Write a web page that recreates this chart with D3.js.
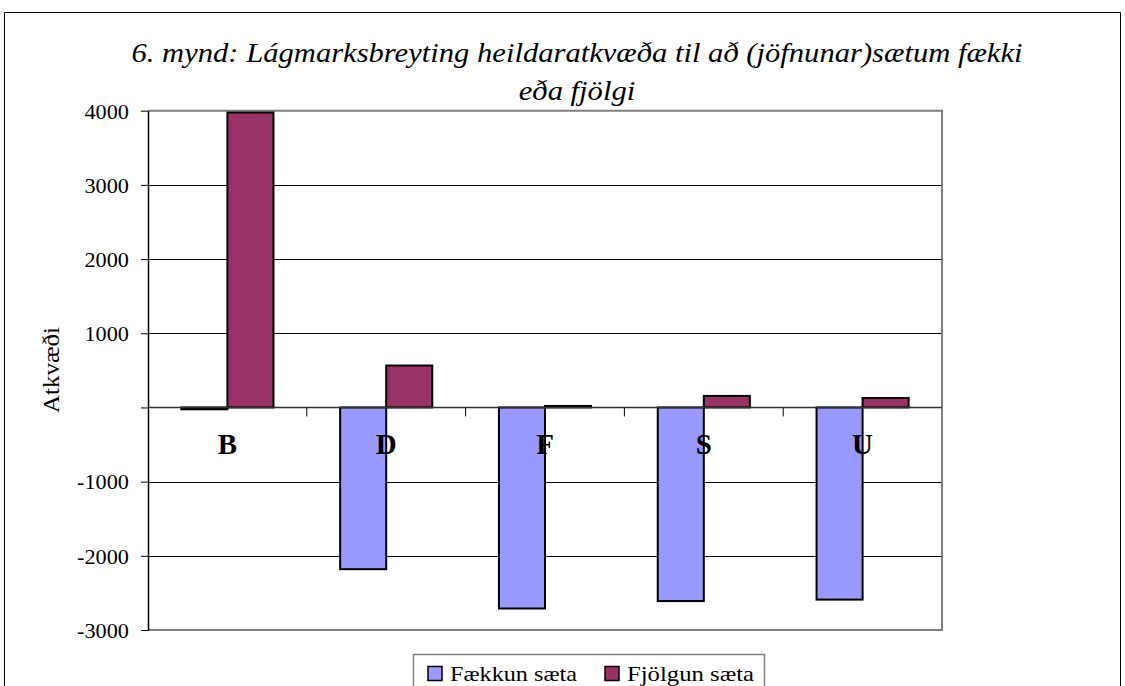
<!DOCTYPE html>
<html>
<head>
<meta charset="utf-8">
<script src="https://cdn.jsdelivr.net/npm/d3@7"></script>
<style>
 body{ margin:0; background:#fff; }
</style>
</head>
<body>
<svg id="chart" width="1125" height="686"></svg>
<script>
// gildi lesin af myndinni
const categories = ["B", "D", "F", "S", "U"];
const faekkun = [-25, -2180, -2710, -2610, -2590];
const fjolgun = [3975, 565, 20, 155, 127];
const yTicks = [-3000, -2000, -1000, 0, 1000, 2000, 3000, 4000];
const seriesNames = ["Fækkun sæta", "Fjölgun sæta"];
const seriesColors = ["#9999FF", "#993366"];
const titleLines = ["6. mynd: Lágmarksbreyting heildaratkvæða til að (jöfnunar)sætum fækki", "eða fjölgi"];

const serif = "Liberation Serif";
const svg = d3.select("#chart");
const plot = {left: 148, right: 942, top: 110.7, bottom: 630};

// myndin er teygð lárétt, textinn fylgir því
function stretch(sel, factor) {
    sel.each(function () {
        const w = this.getComputedTextLength();
        if (w > 0) {
            d3.select(this).attr("textLength", w * factor).attr("lengthAdjust", "spacingAndGlyphs");
        }
    });
}

// ytri rammi
svg.append("path")
    .attr("d", "M4.5,700 V12.5 H1120.5 V700")
    .attr("fill", "none")
    .attr("stroke", "#000")
    .attr("stroke-width", 1);

// titill
const title = svg.append("g").selectAll("text")
    .data(titleLines)
    .join("text")
    .attr("x", 577)
    .attr("y", (d, i) => 62 + i * 38)
    .attr("text-anchor", "middle")
    .style("font-family", serif)
    .style("font-style", "italic")
    .style("font-size", "28px")
    .text(d => d);
const titleFactor = 891 / title.node().getComputedTextLength();
stretch(title, titleFactor);

const x = d3.scaleBand().domain(categories).range([plot.left, plot.right]);
const y = d3.scaleLinear().domain([-3000, 4000]).range([plot.bottom, plot.top]);
const barW = x.bandwidth() * 0.29;

// hnitanet
svg.append("g").selectAll("line")
    .data(yTicks.filter(d => d !== 0 && d !== 4000))
    .join("line")
    .attr("x1", plot.left).attr("x2", plot.right)
    .attr("y1", d => Math.round(y(d)) + .5).attr("y2", d => Math.round(y(d)) + .5)
    .attr("stroke", "#000");

// rammi teiknisvæðis
svg.append("path")
    .attr("d", `M${plot.left},${plot.top} H${plot.right} V${plot.bottom} H${plot.left}`)
    .attr("fill", "none")
    .attr("stroke", "#808080")
    .attr("stroke-width", 2);

// stuðlar
const groups = svg.append("g").selectAll("g")
    .data(categories)
    .join("g");

groups.append("rect")
    .attr("x", d => x(d) + x.bandwidth() / 2 - barW)
    .attr("width", barW)
    .attr("y", (d, i) => y(Math.max(0, faekkun[i])))
    .attr("height", (d, i) => Math.max(1, Math.abs(y(faekkun[i]) - y(0))))
    .attr("fill", seriesColors[0])
    .attr("stroke", "#000")
    .attr("stroke-width", 2);

groups.append("rect")
    .attr("x", d => x(d) + x.bandwidth() / 2)
    .attr("width", barW)
    .attr("y", (d, i) => y(Math.max(0, fjolgun[i])))
    .attr("height", (d, i) => Math.max(1, Math.abs(y(fjolgun[i]) - y(0))))
    .attr("fill", seriesColors[1])
    .attr("stroke", "#000")
    .attr("stroke-width", 2);

// x-ás við núll
const xAxis = svg.append("g").attr("transform", `translate(0,${y(0)})`);
xAxis.append("line")
    .attr("x1", plot.left).attr("x2", plot.right)
    .attr("stroke", "#333").attr("stroke-width", 1.5);
xAxis.selectAll(".sep")
    .data(categories.slice(1))
    .join("line")
    .attr("class", "sep")
    .attr("x1", d => x(d)).attr("x2", d => x(d))
    .attr("y1", 0).attr("y2", 9)
    .attr("stroke", "#000");
xAxis.selectAll("text")
    .data(categories)
    .join("text")
    .attr("x", d => x(d) + x.bandwidth() / 2)
    .attr("y", 47)
    .attr("text-anchor", "middle")
    .style("font-family", serif)
    .style("font-weight", "bold")
    .style("font-size", "29px")
    .text(d => d);

// y-ás
const yAxis = svg.append("g")
    .attr("transform", `translate(${plot.left},0)`)
    .call(d3.axisLeft(y).tickValues(yTicks).tickSize(7).tickPadding(12).tickSizeOuter(0)
        .tickFormat(d => d === 0 ? "" : String(d)));
yAxis.select(".domain").attr("stroke", "#000").attr("stroke-width", 1.5);
yAxis.selectAll(".tick line").attr("stroke", "#000");
const tickText = yAxis.selectAll(".tick text")
    .style("font-family", serif)
    .style("font-size", "21px")
    .attr("fill", "#000")
    .attr("dy", "0.35em");
stretch(tickText, 1.06);

const yLabel = svg.append("text")
    .attr("transform", "translate(59,370) rotate(-90)")
    .attr("text-anchor", "middle")
    .style("font-family", serif)
    .style("font-size", "23px")
    .text("Atkvæði");
yLabel.attr("textLength", 86).attr("lengthAdjust", "spacingAndGlyphs");

// skýringar
const legend = svg.append("g").attr("transform", "translate(413,654)");
legend.append("rect")
    .attr("x", .5).attr("y", .5)
    .attr("width", 351).attr("height", 45)
    .attr("fill", "#fff")
    .attr("stroke", "#808080")
    .attr("stroke-width", 1.5);
const items = legend.selectAll("g.item")
    .data(seriesNames)
    .join("g")
    .attr("class", "item")
    .attr("transform", (d, i) => `translate(${15 + i * 177},0)`);
items.append("rect")
    .attr("width", 14).attr("height", 14)
    .attr("y", 12.5)
    .attr("fill", (d, i) => seriesColors[i])
    .attr("stroke", "#000")
    .attr("stroke-width", 1.5);
items.append("text")
    .attr("x", 22)
    .attr("y", 26.5)
    .style("font-family", serif)
    .style("font-size", "21px")
    .attr("textLength", 127)
    .attr("lengthAdjust", "spacingAndGlyphs")
    .text(d => d);
</script>
</body>
</html>
